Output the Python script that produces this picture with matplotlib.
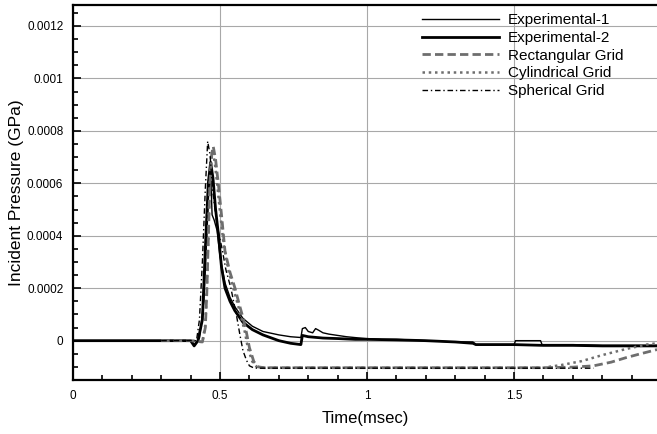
"""Incident pressure vs. time: two experimental traces and three simulated grids."""

import matplotlib
matplotlib.use("Agg")
import matplotlib.pyplot as plt
from matplotlib.ticker import FixedLocator, MultipleLocator, FuncFormatter

plt.rcParams["font.family"] = ["Liberation Sans", "DejaVu Sans"]

SCALE = 1e-4  # pressure values below are in units of 1e-4 GPa

# Experimental-1 (thin solid)
t_exp1 = [0, 0.40, 0.415, 0.43, 0.445, 0.455, 0.462, 0.468, 0.473, 0.48, 0.49, 0.50,
          0.517, 0.534, 0.55, 0.578, 0.61, 0.646, 0.70, 0.74, 0.775, 0.78, 0.79, 0.80,
          0.815, 0.825, 0.835, 0.85, 0.87, 0.90, 0.93, 0.966, 1.0, 1.05, 1.1, 1.2, 1.3,
          1.36, 1.37, 1.50, 1.505, 1.59, 1.595, 1.7, 1.8, 1.9, 1.986]
p_exp1 = [0, 0, -0.15, 0.1, 1.5, 4.0, 5.8, 6.4, 4.8, 4.6, 4.2, 3.2,
          2.2, 1.65, 1.3, 0.85, 0.55, 0.35, 0.22, 0.15, 0.12, 0.46, 0.5, 0.35,
          0.3, 0.46, 0.4, 0.3, 0.25, 0.2, 0.15, 0.11, 0.08, 0.05, 0.05, 0.0, -0.05,
          -0.05, -0.15, -0.15, 0.0, 0.0, -0.15, -0.15, -0.18, -0.18, -0.18]

# Experimental-2 (thick solid)
t_exp2 = [0, 0.40, 0.412, 0.425, 0.44, 0.45, 0.46, 0.468, 0.476, 0.485, 0.495, 0.505,
          0.517, 0.534, 0.55, 0.578, 0.61, 0.646, 0.70, 0.74, 0.775, 0.78, 0.80, 0.85,
          0.90, 0.96, 1.0, 1.1, 1.2, 1.3, 1.36, 1.37, 1.5, 1.6, 1.7, 1.8, 1.9, 1.986]
p_exp2 = [0, 0, -0.2, 0, 0.8, 3.5, 6.0, 6.8, 6.2, 5.0, 4.0, 2.8,
          2.0, 1.5, 1.15, 0.7, 0.42, 0.22, 0.0, -0.1, -0.15, 0.2, 0.15, 0.1,
          0.08, 0.05, 0.05, 0.03, 0.0, -0.05, -0.1, -0.15, -0.15, -0.18, -0.18, -0.2, -0.2, -0.2]

# Rectangular Grid (gray dashed)
t_rect = [0.30, 0.40, 0.44, 0.45, 0.455, 0.46, 0.465, 0.47, 0.477, 0.485, 0.495, 0.505,
          0.517, 0.534, 0.551, 0.565, 0.578, 0.59, 0.60, 0.615, 0.63, 0.65, 0.70, 1.0,
          1.3, 1.6, 1.7, 1.77, 1.83, 1.88, 1.93, 1.986]
p_rect = [0, 0, -0.05, 0.5, 1.8, 3.8, 5.8, 7.0, 7.4, 6.9, 5.9, 4.8,
          3.4, 2.6, 2.0, 1.4, 0.88, 0.3, -0.27, -0.8, -1.0, -1.03, -1.03, -1.03,
          -1.03, -1.03, -1.01, -0.96, -0.82, -0.65, -0.5, -0.34]

# Cylindrical Grid (gray dotted)
t_cyl = [0.30, 0.40, 0.44, 0.45, 0.455, 0.46, 0.465, 0.474, 0.482, 0.49, 0.50, 0.512,
         0.528, 0.545, 0.56, 0.572, 0.585, 0.595, 0.61, 0.625, 0.645, 0.70, 1.0, 1.3,
         1.6, 1.66, 1.73, 1.80, 1.88, 1.95, 1.986]
p_cyl = [0, 0, -0.05, 0.6, 2.0, 4.0, 6.0, 7.3, 6.8, 6.0, 4.9, 3.7,
         2.7, 2.0, 1.4, 0.9, 0.3, -0.3, -0.8, -1.0, -1.03, -1.03, -1.03, -1.03,
         -1.03, -0.93, -0.78, -0.55, -0.32, -0.15, -0.1]

# Spherical Grid (black dash-dot)
t_sph = [0.30, 0.40, 0.42, 0.43, 0.44, 0.45, 0.458, 0.466, 0.476, 0.49, 0.507, 0.52,
         0.537, 0.557, 0.568, 0.578, 0.59, 0.60, 0.615, 0.63, 0.70, 1.0, 1.3, 1.6, 1.77]
p_sph = [0, 0, 0.0, 0.8, 3.0, 5.8, 7.6, 7.1, 5.6, 4.4, 3.5, 2.7,
         2.0, 0.9, 0.2, -0.38, -0.75, -0.96, -1.04, -1.05, -1.05, -1.05, -1.05, -1.05, -1.05]

SERIES = [
    ("Experimental-1", t_exp1, p_exp1, dict(color="black", lw=1.0, ls="-")),
    ("Experimental-2", t_exp2, p_exp2, dict(color="black", lw=2.0, ls="-")),
    ("Rectangular Grid", t_rect, p_rect, dict(color="#6e6e6e", lw=2.0, ls=(0, (3, 1.5)))),
    ("Cylindrical Grid", t_cyl, p_cyl, dict(color="#6e6e6e", lw=1.8, ls=(0, (1, 1.5)))),
    ("Spherical Grid", t_sph, p_sph, dict(color="black", lw=1.0, ls=(0, (4, 2, 1, 2)))),
]

fig = plt.figure(figsize=(6.57, 4.34), dpi=100)
ax = fig.add_axes([73 / 657, 54 / 434, 584 / 657, 375 / 434])

for label, t, p, style in SERIES:
    ax.plot(t, [v * SCALE for v in p], label=label, **style)

ax.set_xlim(0, 1.986)
ax.set_ylim(-0.00015, 0.00128)

ax.xaxis.set_major_locator(FixedLocator([0, 0.5, 1, 1.5]))
ax.xaxis.set_minor_locator(MultipleLocator(0.1))
ax.yaxis.set_major_locator(FixedLocator([0, 0.0002, 0.0004, 0.0006, 0.0008, 0.001, 0.0012]))
ax.yaxis.set_minor_locator(MultipleLocator(0.00005))
fmt = FuncFormatter(lambda v, pos: f"{v:g}")
ax.xaxis.set_major_formatter(fmt)
ax.yaxis.set_major_formatter(fmt)

ax.tick_params(which="both", direction="in", labelsize=8.5, width=1.2, pad=7)
ax.tick_params(which="major", length=6)
ax.tick_params(which="minor", length=3.5)
ax.tick_params(top=False, right=False, which="both")

ax.grid(True, which="major", color="#a8a8a8", lw=0.8)
ax.set_axisbelow(True)

for side in ("left", "bottom", "top"):
    ax.spines[side].set_linewidth(1.6)
ax.spines["right"].set_visible(False)

ax.set_xlabel("Time(msec)", fontsize=12, labelpad=7)
ax.set_ylabel("Incident Pressure (GPa)", fontsize=12.5, labelpad=2)

ax.legend(loc="upper left", bbox_to_anchor=(0.598, 0.978), frameon=False, fontsize=11,
          handlelength=5.0, handletextpad=0.6, labelspacing=0.24, borderpad=0,
          borderaxespad=0)

fig.savefig("out.png", dpi=100)
